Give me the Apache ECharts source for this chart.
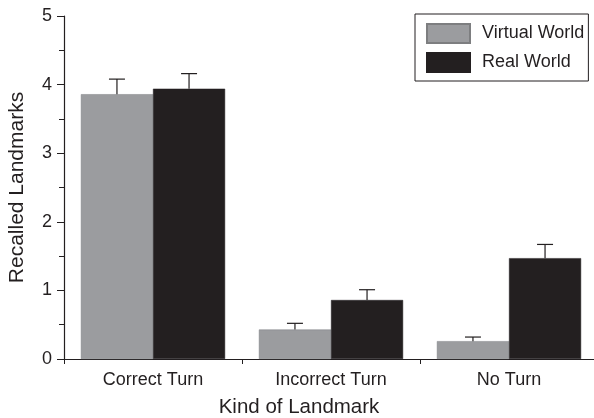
<!DOCTYPE html>
<html><head><meta charset="utf-8">
<script src="https://cdn.jsdelivr.net/npm/echarts@6/dist/echarts.min.js"></script>
<style>html,body{margin:0;padding:0;background:#fff;overflow:hidden}#c{width:594px;height:418px}</style>
</head><body><div id="c"></div>
<script>
const categories = ['Correct Turn', 'Incorrect Turn', 'No Turn'];
const virtualWorld = [3.86, 0.43, 0.26];
const virtualErr = [0.22, 0.09, 0.06];
const realWorld = [3.94, 0.86, 1.47];
const realErr = [0.22, 0.15, 0.20];
const yTicks = [0, 1, 2, 3, 4, 5];

const FONT = 'Liberation Sans';
const chart = echarts.init(document.getElementById('c'));

function errSeries(name, vals, errs, side) {
  return {
    type: 'custom', name: name + ' err', silent: true, z: 5,
    data: vals.map((v, i) => [i, v, errs[i]]),
    renderItem: function (params, api) {
      const i = api.value(0), v = api.value(1), e = api.value(2);
      const base = api.coord([i, v]);
      const top = api.coord([i, v + e]);
      const bw = api.size([1, 0])[0] * 0.405;
      const x = base[0] + side * bw / 2;
      const cap = 8;
      return {
        type: 'group', children: [
          { type: 'line', shape: { x1: x, y1: base[1], x2: x, y2: top[1] }, style: { stroke: '#231f20', lineWidth: 1.2 } },
          { type: 'line', shape: { x1: x - cap, y1: top[1], x2: x + cap, y2: top[1] }, style: { stroke: '#231f20', lineWidth: 1.2 } }
        ]
      };
    }
  };
}

chart.setOption({
  animation: false,
  grid: { left: 64, top: 16, width: 534, bottom: 59, containLabel: false, outerBoundsMode: 'none' },
  legend: {
    orient: 'vertical', left: 415, top: 14,
    data: ['Virtual World', 'Real World'],
    itemWidth: 43, itemHeight: 19, itemGap: 8,
    padding: [9, 4, 8, 11],
    borderColor: '#231f20', borderWidth: 1, backgroundColor: '#fff',
    textStyle: { fontFamily: FONT, fontSize: 18, color: '#231f20', padding: [0, 0, 0, 7] },
    icon: 'rect'
  },
  xAxis: {
    type: 'category', data: categories,
    name: 'Kind of Landmark', nameLocation: 'middle', nameGap: 38,
    nameTextStyle: { fontFamily: FONT, fontSize: 20.5, color: '#231f20', padding: [0, 64, 0, 0] },
    axisLine: { lineStyle: { color: '#231f20', width: 1.2 } },
    axisTick: { show: true, length: 5, lineStyle: { color: '#231f20' } },
    axisLabel: { fontFamily: FONT, fontSize: 18, color: '#231f20', margin: 12 }
  },
  yAxis: {
    type: 'value', min: yTicks[0], max: yTicks[yTicks.length - 1], interval: 1,
    name: 'Recalled Landmarks', nameLocation: 'middle', nameGap: 36,
    nameTextStyle: { fontFamily: FONT, fontSize: 21, color: '#231f20' },
    axisLine: { show: true, lineStyle: { color: '#231f20', width: 1.2 } },
    axisTick: { show: true, length: 7, lineStyle: { color: '#231f20' } },
    minorTick: { show: true, splitNumber: 2, length: 5, lineStyle: { color: '#231f20' } },
    splitLine: { show: false },
    axisLabel: { fontFamily: FONT, fontSize: 18, color: '#231f20', margin: 12 }
  },
  series: [
    { type: 'bar', name: 'Virtual World', data: virtualWorld, barWidth: '40.5%', barGap: '0%',
      itemStyle: { color: '#9b9c9f', borderColor: '#7d7e80', borderWidth: 0.5 } },
    { type: 'bar', name: 'Real World', data: realWorld, barWidth: '40.5%', barGap: '0%',
      itemStyle: { color: '#231f20', borderColor: '#231f20', borderWidth: 0.5 } },
    errSeries('Virtual World', virtualWorld, virtualErr, -1),
    errSeries('Real World', realWorld, realErr, 1)
  ]
});
</script></body></html>
